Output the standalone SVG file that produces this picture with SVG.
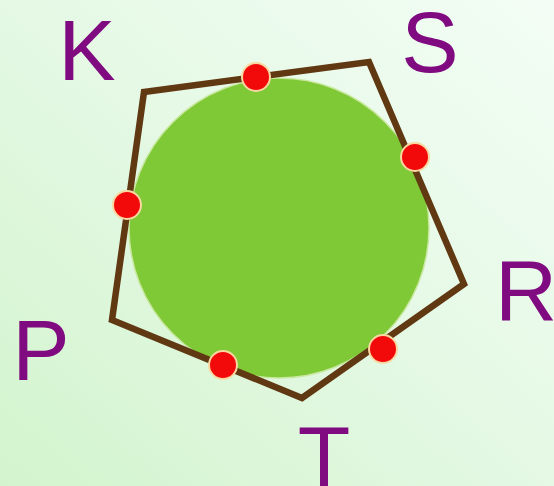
<svg xmlns="http://www.w3.org/2000/svg" width="554" height="486" viewBox="0 0 554 486">
  <defs>
    <linearGradient id="bg" x1="0" y1="1" x2="1" y2="0">
      <stop offset="0" stop-color="#d2f4cd"/>
      <stop offset="0.55" stop-color="#e6f9e6"/>
      <stop offset="1" stop-color="#f3fdf5"/>
    </linearGradient>
  </defs>
  <style>
    .lbl { font-family: "Liberation Sans", Arial, sans-serif; font-size: 86px; fill: #800a80; text-anchor: middle; }
    .edge { fill: none; stroke: #603812; stroke-width: 6.5; stroke-linejoin: miter; }
    .pt { fill: #f20a0a; stroke: #f8d7a0; stroke-width: 2; }
  </style>
  <rect width="554" height="486" fill="url(#bg)"/>
  <g id="circle">
    <circle cx="279" cy="228" r="150" fill="#7fc836" stroke="#c9e8a0" stroke-width="1.5"/>
  </g>
  <g id="connectors">
    <polygon class="edge" points="144,92 369,62 464,284 302,398 112,320"/>
  </g>
  <g id="points">
    <circle class="pt" cx="256" cy="77" r="14"/>
    <circle class="pt" cx="415" cy="157" r="14"/>
    <circle class="pt" cx="383" cy="349" r="14"/>
    <circle class="pt" cx="223" cy="365" r="14"/>
    <circle class="pt" cx="127" cy="205" r="14"/>
  </g>
  <g id="K"><text class="lbl" x="87" y="80">K</text></g>
  <g id="S"><text class="lbl" x="430" y="72">S</text></g>
  <g id="R"><text class="lbl" x="526" y="320">R</text></g>
  <g id="P"><text class="lbl" x="41" y="380">P</text></g>
  <g id="T"><text class="lbl" x="324" y="486">T</text></g>
</svg>
